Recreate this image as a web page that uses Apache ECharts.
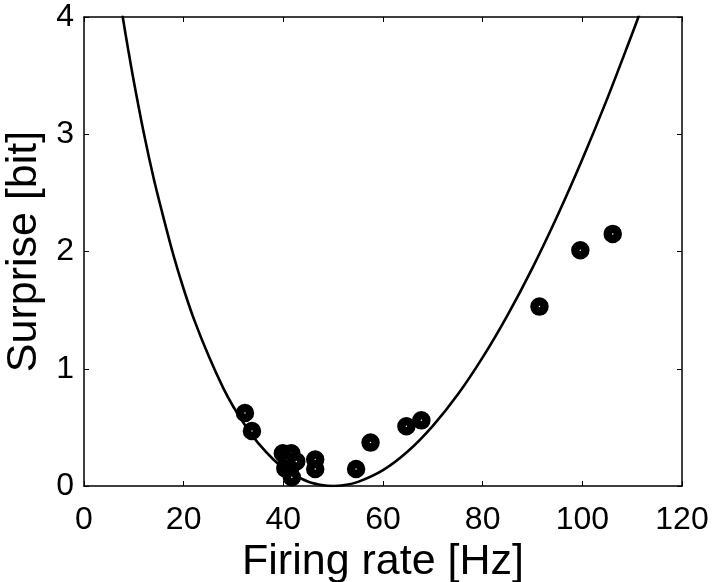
<!DOCTYPE html>
<html>
<head>
<meta charset="utf-8">
<script src="https://cdn.jsdelivr.net/npm/echarts@6/dist/echarts.min.js"></script>
<style>html,body{margin:0;padding:0;background:#fff;}#c{width:713px;height:582px;}</style>
</head>
<body>
<div id="c"></div>
<script>
// Curve
const curveX = [7.5, 8, 9, 10, 12, 14, 16, 18, 20, 22, 25, 28, 30, 33, 35, 38, 40, 42, 45, 48, 50, 52, 55, 60, 65, 70, 75, 80, 85, 90, 95, 100, 105, 110, 111, 112];
const curveY = [4.08, 3.94, 3.69, 3.45, 3.01, 2.62, 2.28, 1.96, 1.68, 1.43, 1.11, 0.83, 0.674, 0.475, 0.363, 0.226, 0.155, 0.098, 0.037, 0.006, 0, 0.006, 0.035, 0.135, 0.296, 0.513, 0.78, 1.097, 1.458, 1.861, 2.305, 2.787, 3.304, 3.857, 3.97, 4.09];
// Data points
const rateX = [32.3, 33.7, 39.9, 41.6, 40.7, 42.6, 40.4, 41.3, 41.7, 46.4, 46.4, 54.6, 57.5, 64.7, 67.7, 91.4, 99.6, 106.1];
const surpriseY = [0.623, 0.469, 0.28, 0.28, 0.22, 0.21, 0.15, 0.135, 0.075, 0.225, 0.145, 0.145, 0.37, 0.51, 0.56, 1.53, 2.01, 2.15];
const xTicks = [0, 20, 40, 60, 80, 100, 120];
const yTicks = [0, 1, 2, 3, 4];

const font = 'Liberation Sans, Arial, Helvetica, sans-serif';
const chart = echarts.init(document.getElementById('c'));
const axisLine = {show: true, onZero: false, lineStyle: {color: '#000', width: 1.5}};
const tick = {show: true, inside: true, length: 5, lineStyle: {color: '#000', width: 1}};
chart.setOption({
  animation: false,
  grid: {left: 84, right: 31, top: 17, bottom: 96, containLabel: false, outerBoundsMode: 'none'},
  xAxis: [{
    type: 'value', min: xTicks[0], max: xTicks[xTicks.length - 1], interval: 20,
    position: 'bottom',
    name: 'Firing rate [Hz]', nameLocation: 'middle', nameGap: 48,
    nameTextStyle: {fontFamily: font, fontSize: 43, color: '#000'},
    axisLine: axisLine, axisTick: tick,
    axisLabel: {fontFamily: font, fontSize: 32, color: '#000', margin: 18},
    splitLine: {show: false}
  }, {
    type: 'value', min: 0, max: 120, interval: 20, position: 'top',
    axisLine: axisLine, axisTick: tick, axisLabel: {show: false}, splitLine: {show: false}
  }],
  yAxis: [{
    type: 'value', min: yTicks[0], max: yTicks[yTicks.length - 1], interval: 1,
    position: 'left',
    name: 'Surprise [bit]', nameLocation: 'middle', nameGap: 36,
    nameTextStyle: {fontFamily: font, fontSize: 43, color: '#000'},
    axisLine: axisLine, axisTick: tick,
    axisLabel: {fontFamily: font, fontSize: 32, color: '#000', margin: 10},
    splitLine: {show: false}
  }, {
    type: 'value', min: 0, max: 4, interval: 1, position: 'right',
    axisLine: axisLine, axisTick: tick, axisLabel: {show: false}, splitLine: {show: false}
  }],
  series: [{
    type: 'line',
    data: curveX.map((x, i) => [x, curveY[i]]),
    smooth: 0.3, showSymbol: false, clip: true,
    lineStyle: {color: '#000', width: 2.6}
  }, {
    type: 'scatter',
    data: rateX.map((x, i) => [x, surpriseY[i]]),
    symbol: 'circle', symbolSize: 10,
    itemStyle: {color: '#fff', borderColor: '#000', borderWidth: 8.5, opacity: 1}
  }]
});
</script>
</body>
</html>
